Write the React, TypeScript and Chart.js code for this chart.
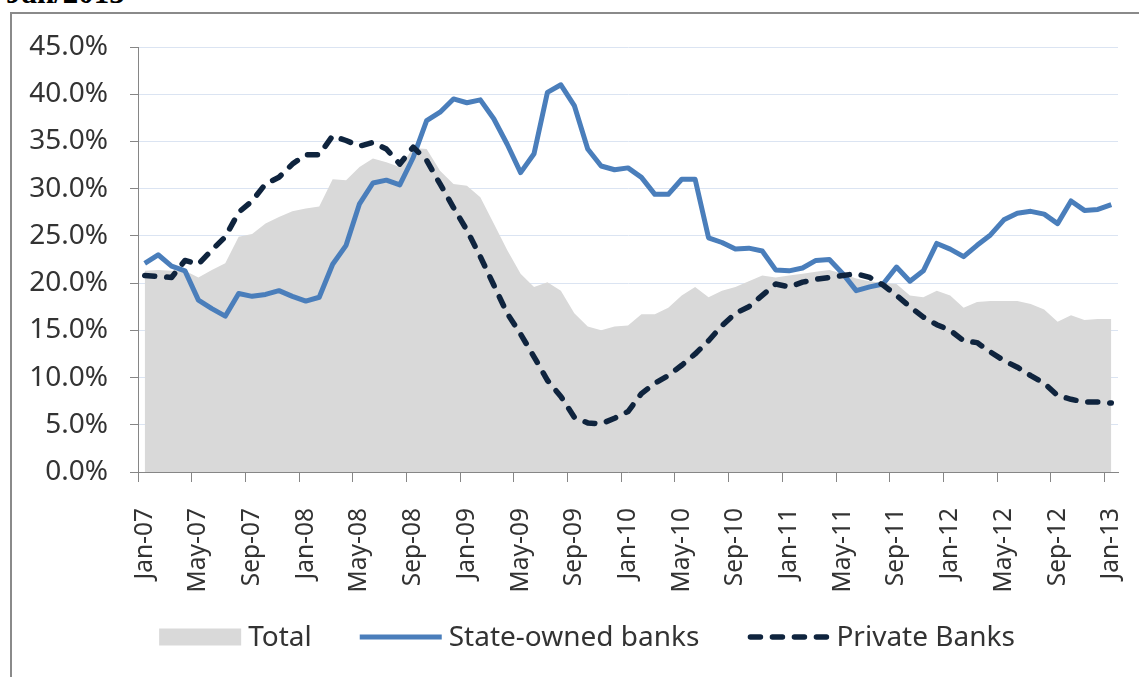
import React, { useEffect, useRef } from 'react';
import { Chart, registerables } from 'chart.js';

Chart.register(...registerables);

const monthNames = ['Jan', 'Feb', 'Mar', 'Apr', 'May', 'Jun', 'Jul', 'Aug', 'Sep', 'Oct', 'Nov', 'Dec'];
const years = ['07', '08', '09', '10', '11', '12', '13'];
const categories: string[] = [];
years.forEach((y) => monthNames.forEach((m) => { if (categories.length < 73) categories.push(`${m}-${y}`); }));

const yTicks = [0, 5, 10, 15, 20, 25, 30, 35, 40, 45];

const totalValues = [
  21.3, 21.4, 21.3, 21.3, 20.6, 21.4, 22.1, 24.9, 25.2, 26.3, 27.0, 27.6,
  27.9, 28.1, 31.0, 30.9, 32.3, 33.2, 32.8, 32.3, 34.3, 34.2, 31.9, 30.5,
  30.3, 29.1, 26.3, 23.5, 21.0, 19.6, 20.1, 19.2, 16.8, 15.4, 15.0, 15.4,
  15.5, 16.7, 16.7, 17.4, 18.7, 19.6, 18.5, 19.2, 19.6, 20.2, 20.8, 20.6,
  20.8, 21.0, 21.2, 21.4, 21.0, 20.5, 20.2, 20.0, 19.9, 18.7, 18.5, 19.2,
  18.7, 17.4, 18.0, 18.1, 18.1, 18.1, 17.8, 17.2, 15.9, 16.6, 16.1, 16.2, 16.2,
];

const stateValues = [
  22.1, 23.0, 21.8, 21.3, 18.2, 17.3, 16.5, 18.9, 18.6, 18.8, 19.2, 18.6,
  18.1, 18.5, 22.0, 24.0, 28.4, 30.6, 30.9, 30.4, 33.3, 37.2, 38.1, 39.5,
  39.1, 39.4, 37.4, 34.7, 31.7, 33.7, 40.2, 41.0, 38.8, 34.2, 32.4, 32.0,
  32.2, 31.2, 29.4, 29.4, 31.0, 31.0, 24.8, 24.3, 23.6, 23.7, 23.4, 21.4,
  21.3, 21.6, 22.4, 22.5, 21.0, 19.2, 19.6, 19.9, 21.7, 20.2, 21.3, 24.2,
  23.6, 22.8, 24.0, 25.1, 26.7, 27.4, 27.6, 27.3, 26.3, 28.7, 27.7, 27.8, 28.3,
];

const privateValues = [
  20.8, 20.7, 20.6, 22.4, 22.0, 23.5, 24.9, 27.5, 28.7, 30.5, 31.2, 32.6,
  33.6, 33.6, 35.6, 35.1, 34.5, 34.9, 34.2, 32.6, 34.4, 33.0, 30.5, 28.0,
  25.6, 22.8, 19.8, 16.8, 14.6, 12.2, 9.7, 8.0, 5.8, 5.2, 5.1, 5.7,
  6.4, 8.3, 9.4, 10.2, 11.3, 12.5, 13.9, 15.5, 16.8, 17.5, 18.7, 19.9,
  19.6, 20.1, 20.4, 20.6, 20.8, 21.0, 20.6, 19.8, 18.7, 17.5, 16.4, 15.6,
  15.0, 13.9, 13.7, 12.7, 11.8, 11.1, 10.2, 9.4, 8.1, 7.7, 7.4, 7.4, 7.3,
];

const FONT = '"Noto Sans", "Open Sans", sans-serif';
const TEXT = '#333333';
const AXIS = '#868686';
const GRID = '#dbe4f2';
const TOTAL_COLOR = '#d9d9d9';
const STATE_COLOR = '#4a7ebb';
const PRIVATE_COLOR = '#0f243e';

const legendPlugin = {
  id: 'bottomLegend',
  afterDraw(chart: any) {
    const ctx = chart.ctx as CanvasRenderingContext2D;
    const symW = 82;
    const symGap = 7;
    const itemGap = 48;
    const cy = 637;
    const centerX = 587;
    ctx.save();
    ctx.font = `28px ${FONT}`;
    const items = chart.data.datasets.map((ds: any) => ({ ds, tw: ctx.measureText(ds.label).width }));
    const totalW = items.reduce((a: number, it: any) => a + symW + symGap + it.tw, 0) + itemGap * (items.length - 1);
    let x = centerX - totalW / 2;
    items.forEach((it: any) => {
      const ds = it.ds;
      if (ds.fill) {
        ctx.fillStyle = ds.backgroundColor;
        ctx.fillRect(x, cy - 8.5, symW, 17);
      } else {
        ctx.beginPath();
        ctx.strokeStyle = ds.borderColor;
        ctx.lineWidth = ds.borderWidth;
        ctx.lineCap = ds.borderCapStyle || 'butt';
        ctx.setLineDash(ds.borderDash || []);
        const inset = ds.borderDash ? 3 : 0;
        ctx.moveTo(x + inset, cy);
        ctx.lineTo(x + symW - inset, cy);
        ctx.stroke();
        ctx.setLineDash([]);
      }
      ctx.fillStyle = TEXT;
      ctx.textBaseline = 'middle';
      ctx.textAlign = 'left';
      ctx.fillText(ds.label, x + symW + symGap, cy + 1);
      x += symW + symGap + it.tw + itemGap;
    });
    ctx.restore();
  },
};

export default function App() {
  const canvasRef = useRef<HTMLCanvasElement | null>(null);

  useEffect(() => {
    if (!canvasRef.current) return;
    const chart = new Chart(canvasRef.current, {
      type: 'line',
      data: {
        labels: categories,
        datasets: [
          {
            label: 'Total',
            data: totalValues,
            fill: 'origin',
            backgroundColor: TOTAL_COLOR,
            borderColor: 'rgba(0,0,0,0)',
            borderWidth: 0,
            pointRadius: 0,
            tension: 0,
            order: 3,
          },
          {
            label: 'State-owned banks',
            data: stateValues,
            fill: false,
            borderColor: STATE_COLOR,
            borderWidth: 5,
            borderJoinStyle: 'round',
            pointRadius: 0,
            tension: 0,
            order: 2,
          },
          {
            label: 'Private Banks',
            data: privateValues,
            fill: false,
            borderColor: PRIVATE_COLOR,
            borderWidth: 5.5,
            borderDash: [10, 12],
            borderCapStyle: 'round',
            borderJoinStyle: 'round',
            pointRadius: 0,
            tension: 0,
            order: 1,
          },
        ],
      } as any,
      options: {
        responsive: false,
        animation: false,
        layout: { padding: { left: 0, top: 47, right: 21, bottom: 0 } },
        plugins: { legend: { display: false }, tooltip: { enabled: false } },
        scales: {
          x: {
            offset: true,
            grid: {
              offset: true,
              drawOnChartArea: false,
              tickLength: 10,
              color: (c: any) => (typeof c.index === 'number' && c.index % 4 === 0 ? AXIS : 'rgba(0,0,0,0)'),
            },
            border: { color: AXIS, width: 1 },
            ticks: {
              autoSkip: false,
              maxRotation: 90,
              minRotation: 90,
              padding: 26,
              color: TEXT,
              font: { family: FONT, size: 24.5 },
              callback: (_v: any, i: number) => (i % 4 === 0 ? categories[i] : ''),
            },
            afterFit: (s: any) => { s.height = 205; s.paddingLeft = 0; s.paddingRight = 0; },
          },
          y: {
            min: yTicks[0],
            max: yTicks[yTicks.length - 1],
            afterBuildTicks: (s: any) => { s.ticks = yTicks.map((v) => ({ value: v })); },
            ticks: {
              padding: 22,
              color: TEXT,
              font: { family: FONT, size: 28 },
              callback: (v: any) => `${Number(v).toFixed(1)}%`,
            },
            grid: { color: GRID, tickColor: AXIS, tickLength: 8, lineWidth: 1 },
            border: { color: AXIS, width: 1 },
            afterFit: (s: any) => { s.width = 138; },
          },
        },
      } as any,
      plugins: [legendPlugin],
    });
    return () => chart.destroy();
  }, []);

  return (
    <div style={{ position: 'fixed', left: 0, top: 0, width: 1139, height: 677, background: '#ffffff', overflow: 'hidden' }}>
      <div
        style={{
          position: 'absolute', left: 6, top: -23.5, fontFamily: '"Liberation Serif", serif', fontWeight: 'bold',
          fontSize: 31, lineHeight: '31px', color: '#000', whiteSpace: 'nowrap',
        }}
      >
        Jan/2013
      </div>
      <div
        style={{
          position: 'absolute', left: 10, top: 12, width: 1160, height: 700, border: '2px solid #8a8a8a', boxSizing: 'border-box',
        }}
      />
      <canvas ref={canvasRef} width={1139} height={677} style={{ position: 'absolute', left: 0, top: 0, width: 1139, height: 677 }} />
    </div>
  );
}
